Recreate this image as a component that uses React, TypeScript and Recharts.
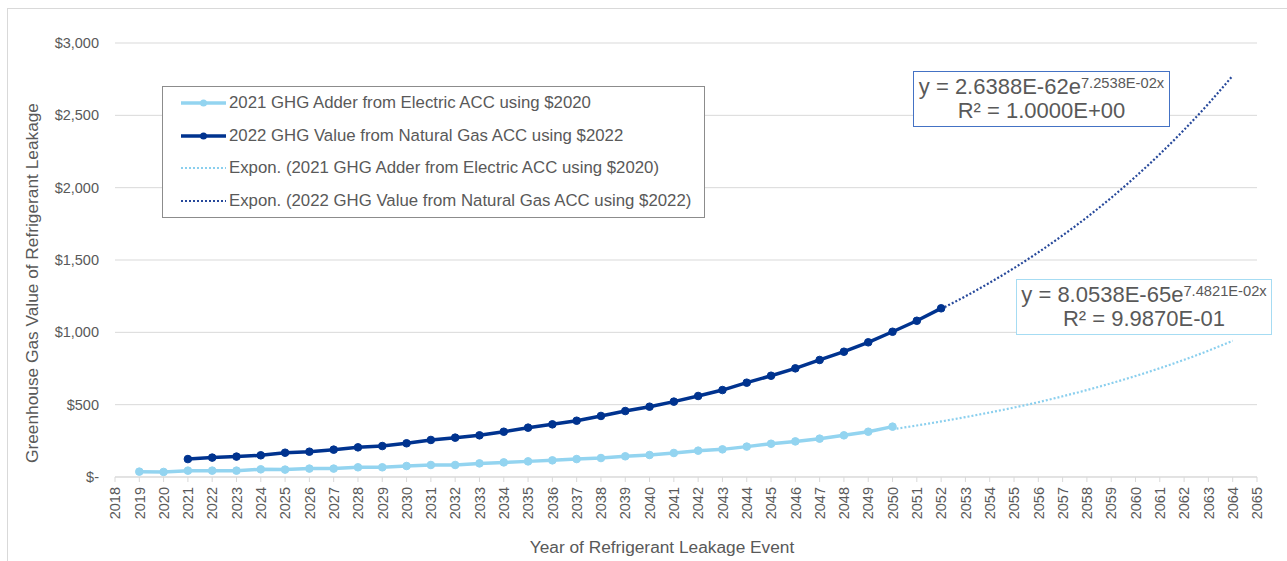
import React from "react";
import {
  ComposedChart,
  Line,
  XAxis,
  YAxis,
  CartesianGrid,
  Legend,
} from "recharts";

const years = [
  2018, 2019, 2020, 2021, 2022, 2023, 2024, 2025, 2026, 2027, 2028, 2029,
  2030, 2031, 2032, 2033, 2034, 2035, 2036, 2037, 2038, 2039, 2040, 2041,
  2042, 2043, 2044, 2045, 2046, 2047, 2048, 2049, 2050, 2051, 2052, 2053,
  2054, 2055, 2056, 2057, 2058, 2059, 2060, 2061, 2062, 2063, 2064, 2065,
];
const yTicks = [0, 500, 1000, 1500, 2000, 2500, 3000];

// 2021 GHG adder (electric ACC, $2020), 2019-2050
const adderStart = 2019;
const adder2021 = [
  37, 35, 44, 44, 44, 53, 51, 58, 58, 67, 67, 76, 83, 83, 94, 101, 108, 115,
  124, 131, 143, 152, 166, 182, 191, 210, 230, 246, 265, 288, 313, 348,
];

// 2022 GHG value (natural gas ACC, $2022), 2021-2052
const valueStart = 2021;
const value2022 = [
  124, 134, 141, 150, 168, 175, 189, 205, 214, 233, 256, 272, 288, 313, 341,
  364, 389, 422, 456, 486, 521, 560, 601, 652, 700, 751, 809, 866, 931, 1004,
  1080, 1166,
];

// dotted trendlines, the part visible past the data
const adderTrendStart = 2050;
const adderTrend = [
  330, 356, 384, 414, 446, 480, 517, 558, 601, 648, 698, 752, 810, 873, 941,
];
const valueTrendStart = 2052;
const valueTrend = [
  1162, 1249, 1343, 1444, 1553, 1670, 1795, 1930, 2076, 2232, 2400, 2580, 2774,
];

const LIGHT = "#93D4F0";
const DARK = "#00338F";
const LIGHT_TREND = "#8ACFEE";
const DARK_TREND = "#27499B";
const TEXT = "#595959";
const GRID = "#D9D9D9";
const FONT = "'Liberation Sans', Arial, sans-serif";

const pick = (arr: number[], start: number, year: number) => {
  const i = year - start;
  return i >= 0 && i < arr.length ? arr[i] : null;
};

const data = years.map((year) => ({
  year,
  adder: pick(adder2021, adderStart, year),
  value: pick(value2022, valueStart, year),
  adderTrend: pick(adderTrend, adderTrendStart, year),
  valueTrend: pick(valueTrend, valueTrendStart, year),
}));

const legendItems = [
  { label: "2021 GHG Adder from Electric ACC using $2020", color: LIGHT, dotted: false },
  { label: "2022 GHG Value from Natural Gas ACC using $2022", color: DARK, dotted: false },
  { label: "Expon. (2021 GHG Adder from Electric ACC using $2020)", color: LIGHT_TREND, dotted: true },
  { label: "Expon. (2022 GHG Value from Natural Gas ACC using $2022)", color: DARK_TREND, dotted: true },
];

function money(v: number) {
  return v === 0 ? "$-" : "$" + v.toLocaleString("en-US");
}

function YearTick({ x, y, payload }: any) {
  return (
    <g transform={`translate(${x},${y})`}>
      <text
        transform="rotate(-90)"
        textAnchor="end"
        dy="0.36em"
        fontSize={14.5}
        fill={TEXT}
        fontFamily={FONT}
      >
        {payload.value}
      </text>
    </g>
  );
}

function LegendBox() {
  return (
    <div
      style={{
        width: 541,
        height: 130,
        border: "1px solid #8C8C8C",
        background: "#fff",
        fontFamily: FONT,
        fontSize: 16.8,
        color: TEXT,
      }}
    >
      {legendItems.map((item) => (
        <div
          key={item.label}
          style={{ height: 32.5, display: "flex", alignItems: "center" }}
        >
          <svg width={46} height={12} style={{ marginLeft: 18, marginRight: 2 }}>
            {item.dotted ? (
              <line
                x1={0}
                y1={6}
                x2={45}
                y2={6}
                stroke={item.color}
                strokeWidth={2}
                strokeDasharray="2 2"
              />
            ) : (
              <>
                <line x1={0} y1={6} x2={45} y2={6} stroke={item.color} strokeWidth={3.5} />
                <circle cx={22.5} cy={6} r={3.5} fill={item.color} />
              </>
            )}
          </svg>
          <span style={{ whiteSpace: "nowrap" }}>{item.label}</span>
        </div>
      ))}
    </div>
  );
}

function EquationBox({ left, top, width, border, coef, expo, r2 }: any) {
  return (
    <div
      style={{
        position: "absolute",
        left,
        top,
        width,
        height: 51,
        border: `1.5px solid ${border}`,
        background: "#fff",
        fontFamily: FONT,
        color: TEXT,
        fontSize: 22,
        lineHeight: "24px",
        textAlign: "center",
        paddingTop: 3,
        whiteSpace: "nowrap",
      }}
    >
      <div>
        {coef}
        <span
          style={{
            fontSize: 14.7,
            lineHeight: "16px",
            verticalAlign: "top",
          }}
        >
          {expo}
        </span>
      </div>
      <div>{r2}</div>
    </div>
  );
}

export default function App() {
  return (
    <div
      style={{
        position: "absolute",
        left: 0,
        top: 0,
        width: 1287,
        height: 561,
        overflow: "hidden",
        background: "#fff",
      }}
    >
      <div
        style={{
          position: "absolute",
          left: 7,
          top: 8,
          width: 1300,
          height: 600,
          borderLeft: `1px solid ${GRID}`,
          borderTop: `1px solid ${GRID}`,
        }}
      />
      <div style={{ position: "absolute", left: 0, top: 0 }}>
        <ComposedChart
          width={1287}
          height={561}
          data={data}
          margin={{ top: 43, right: 30, bottom: 0, left: 15 }}
        >
          <CartesianGrid vertical={false} stroke={GRID} />
          <XAxis
            dataKey="year"
            type="number"
            domain={[2018, 2065]}
            ticks={years}
            interval={0}
            height={84}
            stroke={GRID}
            tickSize={5}
            tickMargin={5}
            tick={<YearTick />}
            label={{
              content: ({ viewBox }: any) => (
                <text
                  x={viewBox.x + viewBox.width / 2 - 24}
                  y={viewBox.y + 76}
                  textAnchor="middle"
                  fontSize={17.3}
                  fill={TEXT}
                  fontFamily={FONT}
                >
                  Year of Refrigerant Leakage Event
                </text>
              ),
            }}
          />
          <YAxis
            domain={[0, 3000]}
            ticks={yTicks}
            width={100}
            axisLine={false}
            tickLine={false}
            tickSize={0}
            tickMargin={16}
            tickFormatter={money}
            tick={{ fontSize: 14.5, fill: TEXT, fontFamily: FONT }}
            label={{
              content: ({ viewBox }: any) => {
                const cx = viewBox.x + 17;
                const cy = viewBox.y + viewBox.height / 2 + 23;
                return (
                  <text
                    x={cx}
                    y={cy}
                    transform={`rotate(-90, ${cx}, ${cy})`}
                    textAnchor="middle"
                    dominantBaseline="central"
                    fontSize={17.3}
                    fill={TEXT}
                    fontFamily={FONT}
                  >
                    Greenhouse Gas Value of Refrigerant Leakage
                  </text>
                );
              },
            }}
          />
          <Legend
            layout="vertical"
            align="center"
            verticalAlign="middle"
            wrapperStyle={{ left: 162, top: 86, width: 543, height: 132 }}
            content={() => <LegendBox />}
          />
          <Line
            type="monotone"
            dataKey="adderTrend"
            stroke={LIGHT_TREND}
            strokeWidth={2.2}
            strokeDasharray="2 2"
            dot={false}
            isAnimationActive={false}
          />
          <Line
            type="monotone"
            dataKey="valueTrend"
            stroke={DARK_TREND}
            strokeWidth={2.2}
            strokeDasharray="2 2"
            dot={false}
            isAnimationActive={false}
          />
          <Line
            type="linear"
            dataKey="adder"
            stroke={LIGHT}
            strokeWidth={3.5}
            dot={{ r: 3.8, fill: LIGHT, stroke: LIGHT, strokeWidth: 1 }}
            isAnimationActive={false}
          />
          <Line
            type="linear"
            dataKey="value"
            stroke={DARK}
            strokeWidth={3.5}
            dot={{ r: 3.8, fill: DARK, stroke: DARK, strokeWidth: 1 }}
            isAnimationActive={false}
          />
        </ComposedChart>
      </div>
      <EquationBox
        left={913}
        top={71}
        width={255}
        border="#4472C4"
        coef="y = 2.6388E-62e"
        expo="7.2538E-02x"
        r2="R² = 1.0000E+00"
      />
      <EquationBox
        left={1016}
        top={279}
        width={254}
        border="#A6DCF3"
        coef="y = 8.0538E-65e"
        expo="7.4821E-02x"
        r2="R² = 9.9870E-01"
      />
    </div>
  );
}
